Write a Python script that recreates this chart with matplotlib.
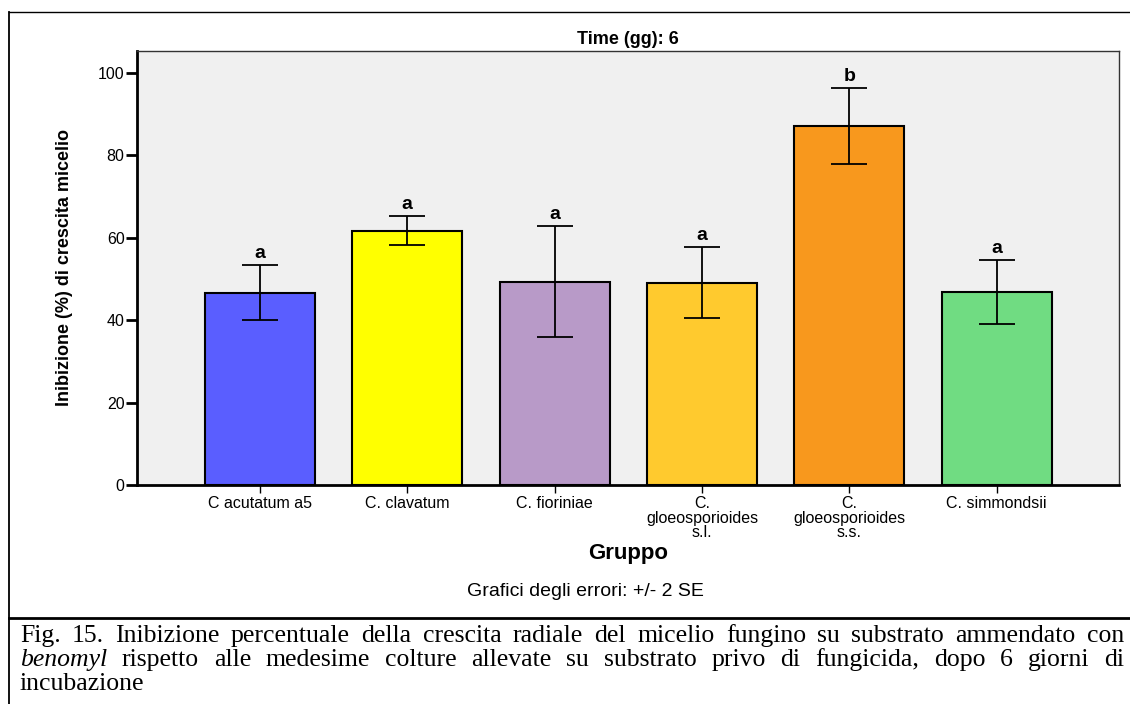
import matplotlib
matplotlib.use("Agg")
import matplotlib.pyplot as plt
from matplotlib.lines import Line2D

groups = ["C acutatum a5", "C. clavatum", "C. fioriniae",
          "C.\ngloeosporioides\ns.l.", "C.\ngloeosporioides\ns.s.", "C. simmondsii"]
means = [46.6, 61.7, 49.3, 49.0, 87.1, 46.8]
err_hi = [53.4, 65.3, 62.9, 57.8, 96.4, 54.6]
err_lo = [40.0, 58.3, 35.9, 40.5, 77.9, 39.1]
letters = ["a", "a", "a", "a", "b", "a"]
colors = ["#5a5eff", "#ffff00", "#b89ac8", "#ffca2e", "#f8981d", "#70dc82"]

caption = [
    "Fig. 15. Inibizione percentuale della crescita radiale del micelio fungino su substrato ammendato con",
    "benomyl rispetto alle medesime colture allevate su substrato privo di fungicida, dopo 6 giorni di",
    "incubazione",
]

plt.rcParams['font.family'] = ["Liberation Sans", "DejaVu Sans"]

W, H = 1130, 704
fig = plt.figure(figsize=(W / 100, H / 100), dpi=100)
ax = fig.add_axes([137 / W, 1 - 485 / H, (1119 - 137) / W, (485 - 51) / H])
ax.set_facecolor("#f0f0f0")

x = list(range(len(groups)))
ax.bar(x, means, width=0.746, color=colors, edgecolor="black", linewidth=1.5, zorder=2)
lo = [m - l for m, l in zip(means, err_lo)]
hi = [h - m for m, h in zip(means, err_hi)]
ax.errorbar(x, means, yerr=[lo, hi], fmt="none", ecolor="black",
            elinewidth=1.3, capsize=13, capthick=1.3, zorder=3)
for xi, top, let in zip(x, err_hi, letters):
    ax.annotate(let, (xi, top), xytext=(0, 2), textcoords="offset points",
                ha="center", va="bottom", fontsize=14, fontweight="bold")

ax.set_xlim(-0.834, 5.83)
ax.set_ylim(0, 105.3)
ax.set_yticks([0, 20, 40, 60, 80, 100])
ax.set_xticks(x)
ax.set_xticklabels(groups, fontsize=11.5, linespacing=0.95)
ax.tick_params(axis="y", length=8, width=2, labelsize=11.5, pad=1)
ax.tick_params(axis="x", length=6, width=1, pad=2)
for s in ["left", "bottom"]:
    ax.spines[s].set_linewidth(2)
for s in ["top", "right"]:
    ax.spines[s].set_linewidth(1)
    ax.spines[s].set_color("#333333")

ax.set_title("Time (gg): 6", fontsize=13, fontweight="bold", pad=5)
ax.set_ylabel("Inibizione (%) di crescita micelio", fontsize=13, fontweight="bold",
              labelpad=18)
fig.text(628 / W, 1 - 553 / H, "Gruppo", ha="center", va="center",
         fontsize=16, fontweight="bold")
fig.text(585 / W, 1 - 591 / H, "Grafici degli errori: +/- 2 SE", ha="center",
         va="center", fontsize=14)

# outer frame of the figure box
fig.add_artist(Line2D([9 / W, 9 / W], [0, 1 - 12 / H], color="black", lw=1.3))
fig.add_artist(Line2D([9 / W, 1], [1 - 12 / H, 1 - 12 / H], color="black", lw=1.0))
fig.add_artist(Line2D([9 / W, 1], [1 - 618 / H, 1 - 618 / H], color="black", lw=2.0))

# justified caption lines
serif = ["Liberation Serif", "DejaVu Serif"]
cap_size = 18.5
renderer = fig.canvas.get_renderer()
left, right = 20, 1124
ys = [636, 660, 684]
for i, (line, yy) in enumerate(zip(caption, ys)):
    words = line.split(" ")
    styles = ["italic" if (i == 1 and j == 0) else "normal" for j in range(len(words))]
    txts = [fig.text(0, 1 - yy / H, w, fontsize=cap_size, family=serif, style=st,
                     va="center", ha="left") for w, st in zip(words, styles)]
    widths = [t.get_window_extent(renderer).width for t in txts]
    if i < len(caption) - 1:
        gap = (right - left - sum(widths)) / (len(words) - 1)
    else:
        gap = renderer.points_to_pixels(cap_size) * 0.25
    pos = left
    for t, w in zip(txts, widths):
        t.set_x(pos / W)
        pos += w + gap

fig.savefig("out.png", dpi=100)
